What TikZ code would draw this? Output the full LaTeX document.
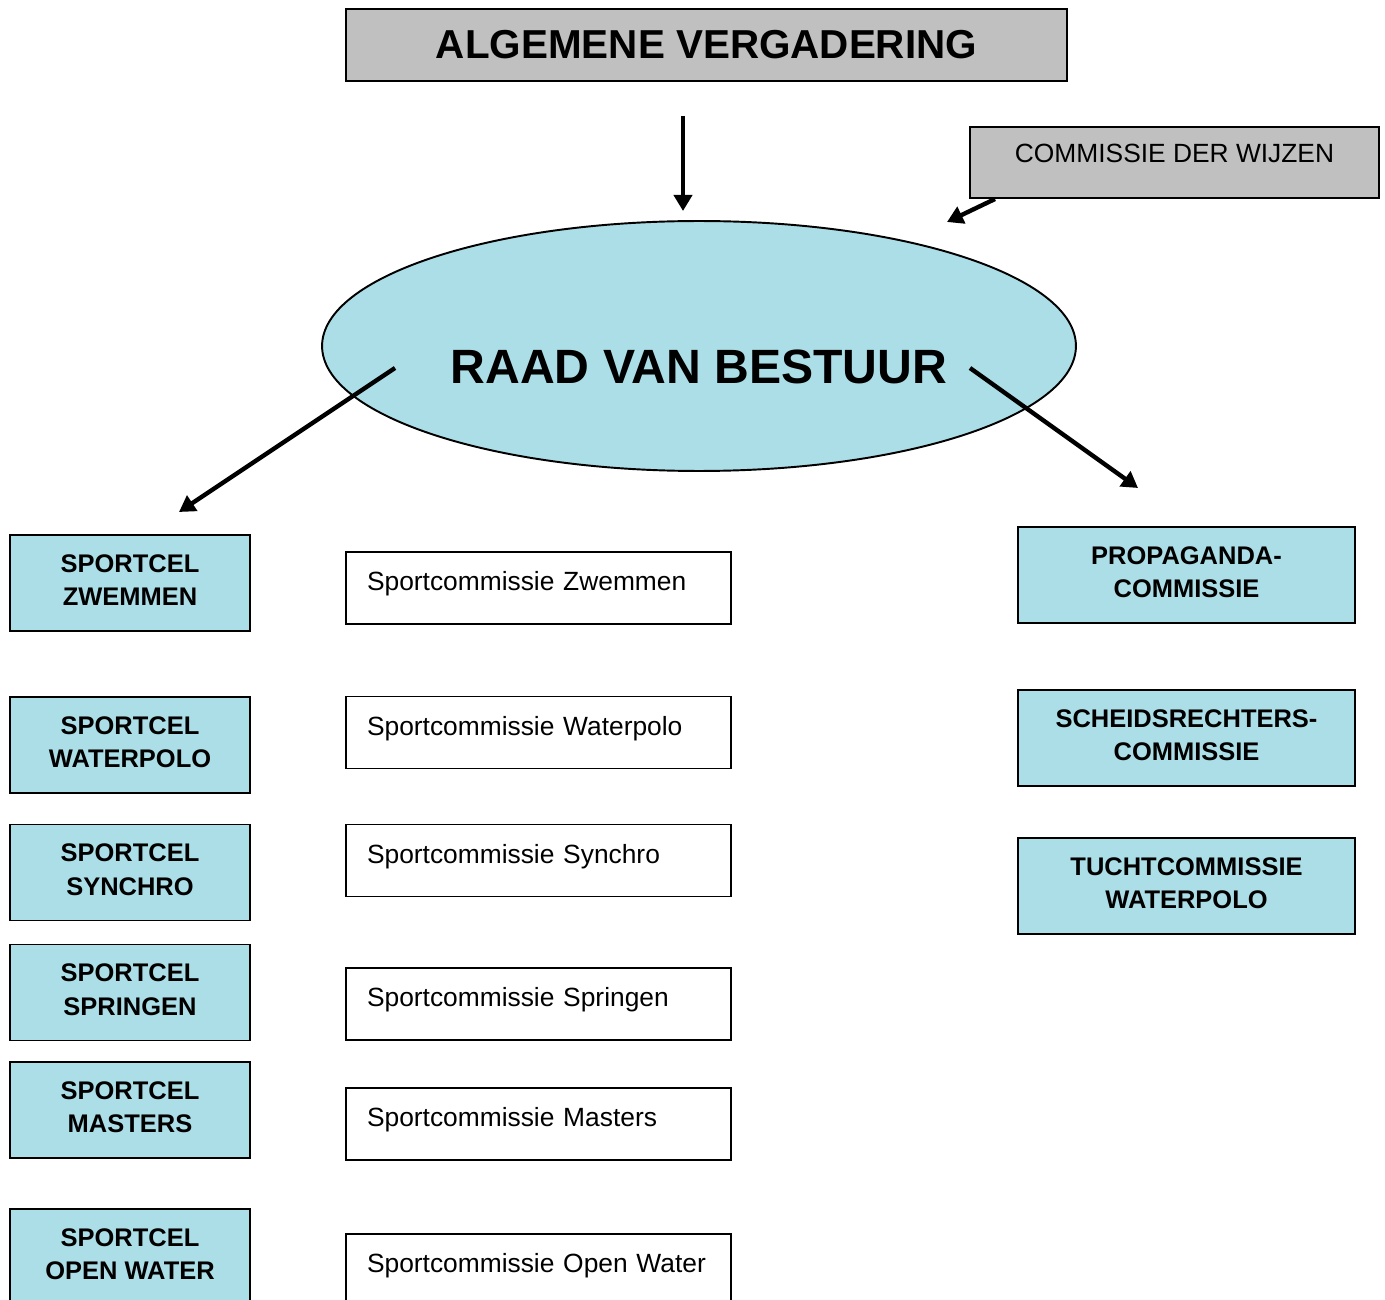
\documentclass[tikz,border=0pt]{standalone}
\usepackage{fontspec}
\setmainfont{Liberation Sans}
\usetikzlibrary{arrows.meta,shapes.geometric,positioning,calc}
\definecolor{bordgrey}{RGB}{192,192,192}
\definecolor{waterblue}{RGB}{172,222,232}

\begin{document}
\begin{tikzpicture}[x=0.02cm, y=-0.02cm,
    greybox/.style={rectangle, draw=black, fill=bordgrey, line width=1.1pt, inner sep=0pt},
    raad/.style={ellipse, draw=black, fill=waterblue, line width=1.1pt, inner sep=0pt, minimum width=15.08cm, minimum height=5cm, font=\fontsize{27.4}{30}\selectfont\bfseries, text height=1.72cm, text depth=0.2cm},
    cel/.style={rectangle, draw=black, fill=waterblue, line width=1.1pt, inner sep=0pt, minimum width=4.8cm, minimum height=1.92cm, align=center, font=\fontsize{14.5}{19}\selectfont\bfseries, text depth=0.12cm},
    comm/.style={cel, minimum width=6.74cm},
    cie/.style={rectangle, draw=black, fill=white, line width=1.1pt, inner ysep=0pt, inner xsep=0.42cm, text width=6.86cm, minimum height=1.44cm, align=left, font=\fontsize{15}{18}\selectfont, text height=0.4cm, text depth=0.3cm},
    arr/.style={-{Triangle[length=3.2mm,width=3.6mm]}, line width=2.5pt, black},
]
\useasboundingbox (0,0) rectangle (1385,1300);
\clip (0,0) rectangle (1385,1300);

% top
\node[greybox, minimum width=14.42cm, minimum height=1.44cm, font=\fontsize{23}{26}\selectfont\bfseries] (av) at (706.5,45) {ALGEMENE VERGADERING};
\node[greybox, minimum width=8.18cm, minimum height=1.42cm, font=\fontsize{15}{18}\selectfont, text height=0.4cm, text depth=0.4cm] (wijzen) at (1174.5,162.5) {COMMISSIE DER WIJZEN};
\node[raad] (rvb) at (699,346) {RAAD VAN BESTUUR};

% sportcellen
\node[cel] (zw) at (130,583) {SPORTCEL\\ZWEMMEN};
\node[cel] (wp) at (130,745) {SPORTCEL\\WATERPOLO};
\node[cel] (sy) at (130,872.5) {SPORTCEL\\SYNCHRO};
\node[cel] (sp) at (130,992.5) {SPORTCEL\\SPRINGEN};
\node[cel] (ma) at (130,1110) {SPORTCEL\\MASTERS};
\node[cel] (ow) at (130,1257) {SPORTCEL\\OPEN WATER};

% sportcommissies
\node[cie] (czw) at (538.5,588) {Sportcommissie Zwemmen};
\node[cie] (cwp) at (538.5,732.5) {Sportcommissie Waterpolo};
\node[cie] (csy) at (538.5,860.5) {Sportcommissie Synchro};
\node[cie] (csp) at (538.5,1004) {Sportcommissie Springen};
\node[cie] (cma) at (538.5,1124) {Sportcommissie Masters};
\node[cie] (cow) at (538.5,1270) {Sportcommissie Open Water};

% commissies rechts
\node[comm] (prop) at (1186.5,575) {PROPAGANDA-\\COMMISSIE};
\node[comm] (scheids) at (1186.5,738) {SCHEIDSRECHTERS-\\COMMISSIE};
\node[comm] (tucht) at (1186.5,886) {TUCHTCOMMISSIE\\WATERPOLO};

% pijlen
\coordinate (av-out) at (683,116);
\coordinate (rvb-in) at (683,211);
\coordinate (wijzen-out) at (995,199);
\coordinate (rvb-in2) at (947,222);
\coordinate (rvb-left) at (395,368);
\coordinate (zw-in) at (179,512);
\coordinate (rvb-right) at (970,368);
\coordinate (prop-in) at (1138,488);

\draw[arr] (av-out) -- (rvb-in);
\draw[arr] (wijzen-out) -- (rvb-in2);
\draw[arr] (rvb-left) -- (zw-in);
\draw[arr] (rvb-right) -- (prop-in);
\end{tikzpicture}
\end{document}
